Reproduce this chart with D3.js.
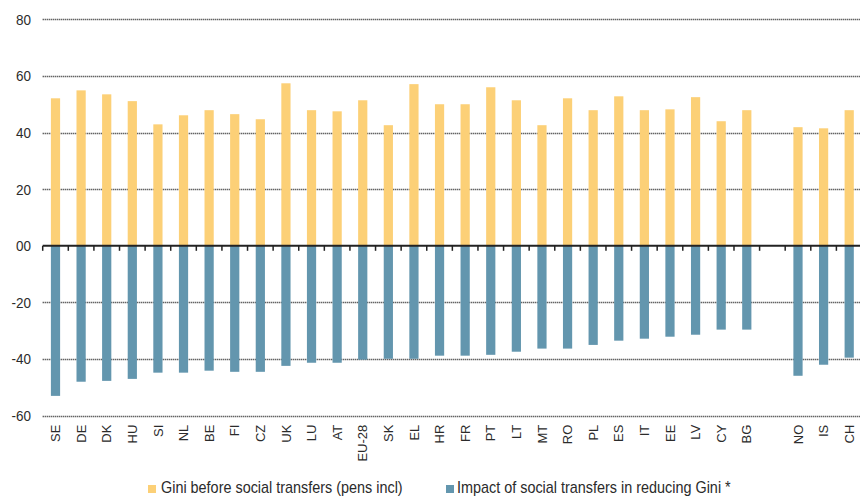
<!DOCTYPE html>
<html>
<head>
<meta charset="utf-8">
<script src="https://cdn.jsdelivr.net/npm/d3@7/dist/d3.min.js"></script>
<style>
  html, body { margin: 0; padding: 0; background: #fff; }
  #chart { width: 860px; height: 497px; }
  text { font-family: "Liberation Sans", Arial, sans-serif; fill: #2b2b2b; }
</style>
</head>
<body>
<div id="chart"></div>
<script>
// Countries, in the order of the reference. The empty entry is the gap before NO/IS/CH.
var countries = ["SE", "DE", "DK", "HU", "SI", "NL", "BE", "FI", "CZ", "UK", "LU", "AT",
  "EU-28", "SK", "EL", "HR", "FR", "PT", "LT", "MT", "RO", "PL", "ES", "IT", "EE", "LV",
  "CY", "BG", "", "NO", "IS", "CH"];

// Gini before social transfers (pensions included)
var giniBefore = [52.1, 54.9, 53.5, 51.1, 42.9, 46.1, 47.9, 46.5, 44.7, 57.4, 47.9, 47.5,
  51.4, 42.6, 57.1, 50.0, 50.0, 56.0, 51.4, 42.6, 52.1, 47.9, 52.8, 47.9, 48.2, 52.5,
  44.0, 47.9, null, 41.9, 41.5, 47.9];

// Impact of social transfers in reducing Gini
var transferImpact = [-53.0, -48.0, -47.7, -47.0, -44.8, -44.8, -44.1, -44.5, -44.5, -42.4, -41.3, -41.3,
  -40.2, -39.9, -39.9, -38.8, -38.8, -38.5, -37.4, -36.3, -36.3, -35.0, -33.5, -32.8, -32.1, -31.4,
  -29.6, -29.6, null, -45.9, -42.0, -39.5];

var yTicks = [80, 60, 40, 20, 0, -20, -40, -60];

var seriesNames = ["Gini before social transfers (pens incl)", "Impact of social transfers in reducing Gini *"];

(function (window) {

  var width = 860,
      height = 497,

      // plot area
      left = 42.7,
      right = 862,
      top = 19.3,
      bottom = 415.7,

      // no narrow font installed, so text gets squeezed sideways
      squeeze = 0.9,

      colors = ["#fcd077", "#6396ae"],

      svg, x, y;

  svg = d3.select("#chart").append("svg")
    .attr("width", width)
    .attr("height", height);

  x = d3.scaleBand()
    .domain(d3.range(countries.length))
    .range([left, right])
    .paddingInner(0.64)
    .paddingOuter(0.32);

  y = d3.scaleLinear()
    .domain([-60, 80])
    .range([bottom, top]);

  // ------------------------------------------------------------
  // Grid lines (dotted) and y labels
  // ------------------------------------------------------------
  svg.append("g")
    .selectAll("line")
    .data(yTicks.filter(function (d) { return d !== 0; }))
    .enter().append("line")
      .attr("x1", left)
      .attr("x2", width)
      .attr("y1", function (d) { return Math.round(y(d)) + 0.5; })
      .attr("y2", function (d) { return Math.round(y(d)) + 0.5; })
      .attr("stroke", "#222")
      .attr("stroke-width", 1.4)
      .attr("stroke-dasharray", "1,1");

  svg.append("g")
    .selectAll("text")
    .data(yTicks)
    .enter().append("text")
      .attr("transform", function (d) { return "translate(31," + y(d) + ") scale(" + squeeze + ",1)"; })
      .attr("dy", "0.36em")
      .attr("text-anchor", "end")
      .style("font-size", "15px")
      .text(function (d) { return d === 0 ? "00" : d; });

  // ------------------------------------------------------------
  // Bars
  // ------------------------------------------------------------
  var idx = d3.range(countries.length);

  svg.append("g")
    .selectAll("rect")
    .data(idx.filter(function (i) { return giniBefore[i] !== null; }))
    .enter().append("rect")
      .attr("x", function (i) { return x(i); })
      .attr("width", x.bandwidth())
      .attr("y", function (i) { return y(giniBefore[i]); })
      .attr("height", function (i) { return y(0) - y(giniBefore[i]); })
      .attr("fill", colors[0]);

  svg.append("g")
    .selectAll("rect")
    .data(idx.filter(function (i) { return transferImpact[i] !== null; }))
    .enter().append("rect")
      .attr("x", function (i) { return x(i); })
      .attr("width", x.bandwidth())
      .attr("y", y(0))
      .attr("height", function (i) { return y(transferImpact[i]) - y(0); })
      .attr("fill", colors[1]);

  // ------------------------------------------------------------
  // Zero axis with ticks between categories
  // ------------------------------------------------------------
  var step = x.step();

  svg.append("line")
    .attr("x1", left)
    .attr("x2", width)
    .attr("y1", y(0))
    .attr("y2", y(0))
    .attr("stroke", "#222")
    .attr("stroke-width", 2);

  svg.append("g")
    .selectAll("line")
    .data(d3.range(countries.length + 1))
    .enter().append("line")
      .attr("x1", function (i) { return left + i * step; })
      .attr("x2", function (i) { return left + i * step; })
      .attr("y1", y(0))
      .attr("y2", y(0) + 5)
      .attr("stroke", "#222")
      .attr("stroke-width", 1.5);

  // category labels, rotated
  svg.append("g")
    .selectAll("text")
    .data(idx)
    .enter().append("text")
      .attr("transform", function (i) {
        return "translate(" + (x(i) + x.bandwidth() / 2) + "," + (bottom + 9) + ") rotate(-90)";
      })
      .attr("dy", "0.36em")
      .attr("text-anchor", "end")
      .style("font-size", "13px")
      .text(function (i) { return countries[i]; });

  // ------------------------------------------------------------
  // Legend
  // ------------------------------------------------------------
  var legendX = [148, 446];

  var legend = svg.append("g")
    .selectAll("g")
    .data(seriesNames)
    .enter().append("g")
      .attr("transform", function (d, i) { return "translate(" + legendX[i] + ",485)"; });

  legend.append("rect")
    .attr("width", 8)
    .attr("height", 8)
    .attr("fill", function (d, i) { return colors[i]; });

  legend.append("text")
    .attr("transform", function (d, i) { return "translate(" + (i === 0 ? 13 : 11) + ",8) scale(" + squeeze + ",1)"; })
    .style("font-size", "16px")
    .text(function (d) { return d; });

})(window);
</script>
</body>
</html>
